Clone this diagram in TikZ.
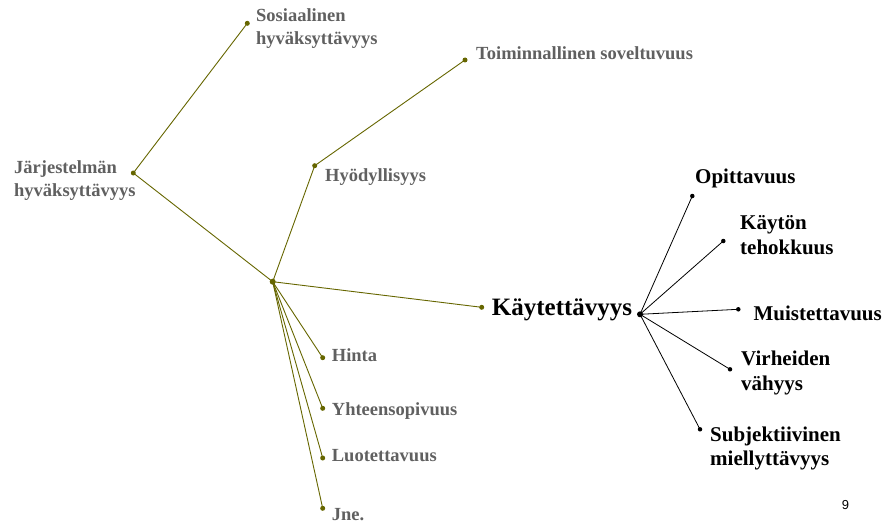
\documentclass[tikz,border=0pt]{standalone}
\usepackage{fontspec}
\setmainfont{Liberation Serif}
\setsansfont{Liberation Sans}
\definecolor{olive}{HTML}{666600}
\definecolor{gtext}{HTML}{606060}
\begin{document}
\begin{tikzpicture}[x=1pt,y=-1pt,
  gdot/.style={circle,fill=olive,inner sep=0pt,minimum size=5pt},
  ghub/.style={circle,fill=olive,inner sep=0pt,minimum size=6pt},
  bdot/.style={circle,fill=black,inner sep=0pt,minimum size=4.5pt},
  bhub/.style={circle,fill=black,inner sep=0pt,minimum size=6pt},
  gline/.style={draw=olive,line width=0.9pt},
  bline/.style={draw=black,line width=0.8pt},
  glab/.style={anchor=base west,inner sep=0pt,text=gtext,font=\fontsize{18.5}{23}\selectfont\bfseries,align=left},
  blab/.style={anchor=base west,inner sep=0pt,text=black,font=\fontsize{21}{24.5}\selectfont\bfseries,align=left}]
\useasboundingbox (0,0) rectangle (888,524);
% olive tree
\node[gdot] (j) at (133.3,173) {};
\node[gdot] (sos) at (247.3,23.3) {};
\node[ghub] (hub) at (272.7,281.7) {};
\node[gdot] (hyo) at (314.7,165.7) {};
\node[gdot] (toi) at (465,60) {};
\node[gdot] (kay) at (481.7,307.3) {};
\node[gdot] (hin) at (322.7,357.7) {};
\node[gdot] (yht) at (322.7,408.3) {};
\node[gdot] (luo) at (322.7,458) {};
\node[gdot] (jne) at (322.7,508.3) {};
\draw[gline] (j.center) -- (sos.center);
\draw[gline] (j.center) -- (hub.center);
\draw[gline] (hub.center) -- (hyo.center);
\draw[gline] (hyo.center) -- (toi.center);
\draw[gline] (hub.center) -- (kay.center);
\draw[gline] (hub.center) -- (hin.center);
\draw[gline] (hub.center) -- (yht.center);
\draw[gline] (hub.center) -- (luo.center);
\draw[gline] (hub.center) -- (jne.center);
% black tree
\node[bhub] (kh) at (640,314.3) {};
\node[bdot] (opi) at (692.3,196) {};
\node[bdot] (teh) at (723.3,241) {};
\node[bdot] (mui) at (738.3,309.3) {};
\node[bdot] (vir) at (730,369.3) {};
\node[bdot] (sub) at (700,429.3) {};
\foreach \t in {opi,teh,mui,vir,sub} \draw[bline] (kh.center) -- (\t.center);
% labels (base = baseline of last line)
\node[glab] (lsos) at (256,45) {Sosiaalinen\\hyväksyttävyys};
\node[glab] (lj) at (14,196.7) {Järjestelmän\\hyväksyttävyys};
\node[glab] (lhyo) at (325,181.7) {Hyödyllisyys};
\node[glab] (ltoi) at (476,60) {Toiminnallinen soveltuvuus};
\node[glab] (lhin) at (331.7,361.7) {Hinta};
\node[glab] (lyht) at (331.7,415) {Yhteensopivuus};
\node[glab] (lluo) at (331.7,461) {Luotettavuus};
\node[glab] (ljne) at (331.7,520) {Jne.};
\node[anchor=base west,inner sep=0pt,font=\fontsize{25}{30}\selectfont\bfseries] (lkay) at (491.7,315.7) {Käytettävyys};
\node[blab] (lopi) at (695,183.3) {Opittavuus};
\node[blab] (lteh) at (740,254.3) {Käytön\\tehokkuus};
\node[blab] (lmui) at (753.3,320) {Muistettavuus};
\node[blab] (lvir) at (741,390) {Virheiden\\vähyys};
\node[blab] (lsub) at (710,465.5) {Subjektiivinen\\miellyttävyys};
\node[anchor=base west,inner sep=0pt,font=\sffamily\fontsize{13}{15}\selectfont] (pg) at (841.7,509.3) {9};
\end{tikzpicture}
\end{document}
